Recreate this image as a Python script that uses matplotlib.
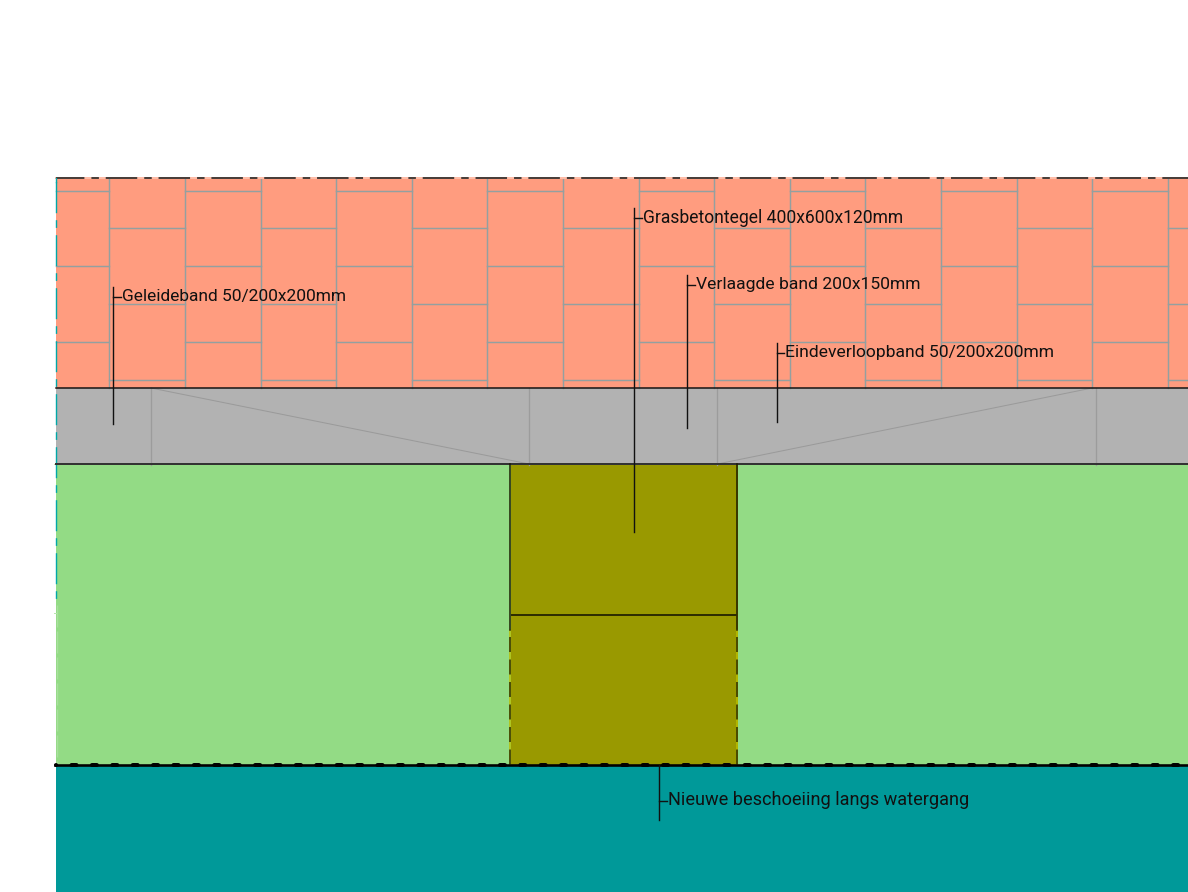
import matplotlib
matplotlib.use("Agg")
import matplotlib.pyplot as plt
from matplotlib.patches import Rectangle

plt.rcParams['lines.scale_dashes'] = False
plt.rcParams['font.family'] = ['Roboto', 'DejaVu Sans']

PX = 0.72
col_edges = [56, 109, 184.8, 260.5, 336.1, 411.7, 487.3, 562.9, 638.5, 714, 789.7, 865.3, 940.9, 1016.5, 1092.1, 1167.7, 1188]
rows_a = [190.5, 266.2, 341.8]
rows_b = [228.2, 303.8, 379.5]
band_verticals = [151, 529, 717.3, 1095.6]
band_diagonals = [((151, 388), (529, 464)), ((717.3, 464), (1092.1, 388))]
labels = ["Geleideband 50/200x200mm", "Grasbetontegel 400x600x120mm", "Verlaagde band 200x150mm",
          "Eindeverloopband 50/200x200mm", "Nieuwe beschoeiing langs watergang"]
label_x = [122, 643, 696, 785, 668]
label_base = [301.5, 223.3, 289, 357, 805]
label_size = [12.5, 12.65, 12.6, 12.6, 13.1]
leader_x = [113, 634, 686.5, 777, 658.5]
leader_top = [287, 208, 275, 343, 765]
leader_bottom = [424, 532, 428, 422, 820]
leader_tick = [297, 218, 285, 353, 800.5]

SALMON, GREY, GREEN, OLIVE, TEAL = '#FF9C7F', '#B2B2B2', '#93DB85', '#999900', '#009999'
GRID = '#93A0A0'

fig = plt.figure(figsize=(11.88, 8.92), dpi=100, facecolor='white')
ax = fig.add_axes([0, 0, 1, 1])
ax.set_xlim(0, 1188)
ax.set_ylim(892, 0)
ax.axis('off')

def rect(x0, y0, x1, y1, c, z=1):
    ax.add_patch(Rectangle((x0, y0), x1 - x0, y1 - y0, fc=c, ec='none', lw=0, zorder=z))

def pattern(offset, *px):
    return (offset * PX, tuple(p * PX for p in px))

rect(56, 178, 1188, 388, SALMON)
rect(56, 388, 1188, 464, GREY)
rect(56, 464, 1188, 765, GREEN)
rect(510.5, 464, 737.5, 765, OLIVE, 2)
rect(56, 765, 1188, 892, TEAL)

# pavers
for i in range(len(col_edges) - 1):
    x0, x1 = col_edges[i], col_edges[i + 1]
    if i > 0:
        ax.plot([x0, x0], [178, 388], color=GRID, lw=1.45 * PX, zorder=3)
    for y in (rows_a if i % 2 == 0 else rows_b):
        ax.plot([x0, x1], [y, y], color=GRID, lw=1.45 * PX, zorder=3)

# top dashed edge
ax.plot([56, 1188], [178, 178], color='#FFBDA8', lw=2 * PX, zorder=4)
ax.plot([56, 1188], [178, 178], color='#4A3F3A', lw=2 * PX, zorder=5,
        ls=pattern(3.1, 31.5, 7, 7.5, 6.83), dash_capstyle='butt')

# band lines
for x in band_verticals:
    ax.plot([x, x], [388, 465], color='#9C9C9C', lw=1.3 * PX, zorder=3)
for (a, b) in band_diagonals:
    ax.plot([a[0], b[0]], [a[1], b[1]], color='#9A9A9A', lw=1.0 * PX, zorder=3)
ax.plot([56, 1188], [388, 388], color='#111111', lw=1.5 * PX, zorder=6)
ax.plot([56, 1188], [464, 464], color='#333333', lw=2 * PX, zorder=6)

# olive block
for x in (510, 737):
    ax.plot([x, x], [464, 630], color='#1A1A00', lw=1.5 * PX, zorder=6)
    ax.plot([x, x], [630, 765], color='#B9C000', lw=1.5 * PX, zorder=5)
    ax.plot([x, x], [636.7, 765], color='#2A2A00', lw=1.5 * PX, zorder=6,
            ls=pattern(0, 15, 7.5), dash_capstyle='butt')
ax.plot([510.5, 737], [615, 615], color='#2E2E00', lw=2 * PX, zorder=6, solid_capstyle='butt')

# bottom line of the green field
ax.plot([55, 1188], [765, 765], color='#000000', lw=2.6 * PX, zorder=7)
ax.plot([56, 1188], [765, 765], color='#000000', lw=4 * PX, zorder=7,
        ls=pattern(4.9, 5, 15.4), dash_capstyle='round')

# left dashed edge
ax.plot([56, 56], [178, 182], color='#00A8A8', lw=1.4 * PX, zorder=5)
ax.plot([56, 56], [178, 600], color='#00A8A8', lw=1.4 * PX, zorder=5,
        ls=pattern(49.3, 31, 7, 7.7, 7.3), dash_capstyle='butt')
ax.plot([57, 57], [605, 765], color='#A8E09C', lw=1.4 * PX, zorder=5,
        ls=pattern(0, 22, 4), dash_capstyle='butt')
for y in (463.5, 613):
    ax.plot([54, 57], [y, y], color='#B8E6AE', lw=1 * PX, zorder=2)

# leaders and labels
for txt, tx, ty, fs, lx, lt, lb, lk in zip(labels, label_x, label_base, label_size,
                                           leader_x, leader_top, leader_bottom, leader_tick):
    ax.plot([lx, lx], [lt, lb], color='#111111', lw=1.4 * PX, zorder=8)
    ax.plot([lx, tx - 1.5], [lk, lk], color='#111111', lw=1.4 * PX, zorder=8)
    ax.text(tx, ty, txt, fontsize=fs, color='#111111', ha='left', va='baseline', zorder=9)

fig.savefig('out.png', dpi=100)
